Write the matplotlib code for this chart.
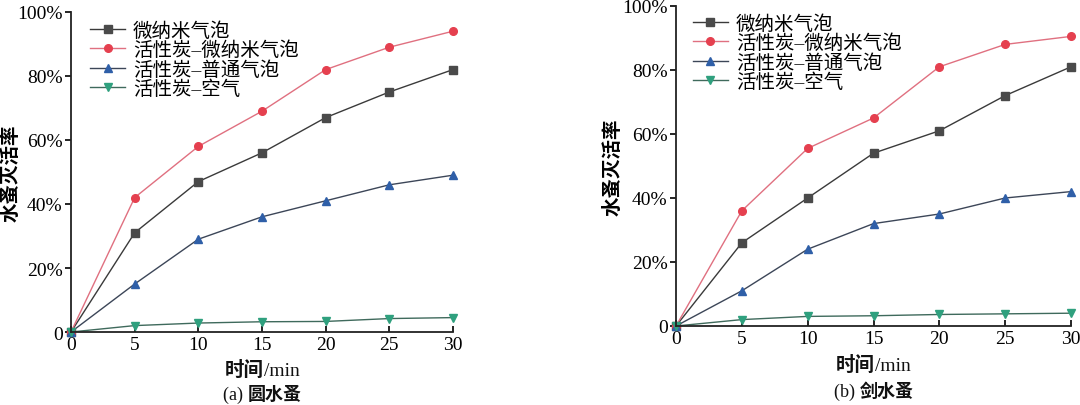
import matplotlib
matplotlib.use("Agg")
import matplotlib.pyplot as plt
from matplotlib.ticker import FuncFormatter
from matplotlib.offsetbox import TextArea, HPacker, AnnotationBbox

plt.rcParams['font.family'] = ['Liberation Serif', 'Noto Sans CJK SC', 'DejaVu Sans']

time_min = [0, 5, 10, 15, 20, 25, 30]
series_names = ["微纳米气泡", "活性炭–微纳米气泡", "活性炭–普通气泡", "活性炭–空气"]

# (a) 圆水蚤
a_micro = [0, 31, 47, 56, 67, 75, 82]
a_ac_micro = [0, 42, 58, 69, 82, 89, 94]
a_ac_normal = [0, 15, 29, 36, 41, 46, 49]
a_ac_air = [0, 2.0, 2.8, 3.2, 3.3, 4.2, 4.5]

# (b) 剑水蚤
b_micro = [0, 26, 40, 54, 61, 72, 81]
b_ac_micro = [0, 36, 55.5, 65, 81, 88, 90.5]
b_ac_normal = [0, 11, 24, 32, 35, 40, 42]
b_ac_air = [0, 2.0, 3.0, 3.2, 3.6, 3.8, 4.0]

y_ticks = [0, 20, 40, 60, 80, 100]
x_ticks = [0, 5, 10, 15, 20, 25, 30]
caption_tags = ["(a) ", "(b) "]
caption_names = ["圆水蚤", "剑水蚤"]

styles = [
    dict(color="#3a3a3a", marker="s", mfc="#4a4a4a", mec="#4a4a4a"),
    dict(color="#e07080", marker="o", mfc="#e5404f", mec="#e5404f"),
    dict(color="#3c4658", marker="^", mfc="#2f5fa8", mec="#2f5fa8"),
    dict(color="#3f6a5c", marker="v", mfc="#2fa07e", mec="#2fa07e"),
]

fig = plt.figure(figsize=(10.8, 4.06), dpi=100)
ax_a = fig.add_axes([71/1080, 1-333/406, (453-71)/1080, (333-13)/406])
ax_b = fig.add_axes([676/1080, 1-327/406, (1071-676)/1080, (327-7)/406])

panels = [
    (ax_a, [a_micro, a_ac_micro, a_ac_normal, a_ac_air], -0.158, 0.05, 0.972, 0.116, 0.195),
    (ax_b, [b_micro, b_ac_micro, b_ac_normal, b_ac_air], -0.16, 0.043, 0.975, 0.119, 0.203),
]

fam = ['Liberation Serif', 'Noto Sans CJK SC']


def mixed_label(ax, parts, y, size):
    areas = [TextArea(t, textprops=dict(family=fam, fontsize=size, fontweight=w, color="#111111"))
             for t, w in parts]
    box = HPacker(children=areas, align="baseline", pad=0, sep=0)
    ab = AnnotationBbox(box, (0.5, -y), xycoords='axes fraction', box_alignment=(0.5, 0.5),
                        frameon=False, pad=0, annotation_clip=False)
    ax.add_artist(ab)


for i, (ax, data, ylx, legx, legy, xly, capy) in enumerate(panels):
    for name, vals, st in zip(series_names, data, styles):
        ax.plot(time_min, vals, label=name, lw=1.0, ms=5.5, clip_on=False, **st)
    ax.set_xlim(0, 30)
    ax.set_ylim(0, 100)
    ax.set_xticks(x_ticks)
    ax.set_yticks(y_ticks)
    ax.yaxis.set_major_formatter(FuncFormatter(lambda v, p: "0" if v == 0 else f"{int(v)}%"))
    ax.spines['top'].set_visible(False)
    ax.spines['right'].set_visible(False)
    for s in ['left', 'bottom']:
        ax.spines[s].set_linewidth(1.3)
        ax.spines[s].set_color("#222222")
    ax.tick_params(axis='x', direction='in', length=4, width=1.2, labelsize=14, pad=3)
    ax.tick_params(axis='y', direction='out', length=4, width=1.2, labelsize=14, pad=2)
    ax.set_ylabel("水蚤灭活率", fontsize=14, family=fam, fontweight='bold', va='center')
    ax.yaxis.set_label_coords(ylx, 0.5)
    mixed_label(ax, [("时间", 'bold'), ("/min", 'normal')], xly, 14)
    mixed_label(ax, [(caption_tags[i], 'normal'), (caption_names[i], 'bold')], capy, 13)
    ax.legend(loc='upper left', bbox_to_anchor=(legx, legy), frameon=False,
              handlelength=1.8, labelspacing=0.05, borderaxespad=0.0, borderpad=0.0,
              handletextpad=0.4, prop=dict(family=fam, size=14))

fig.savefig("out.png", dpi=100)
